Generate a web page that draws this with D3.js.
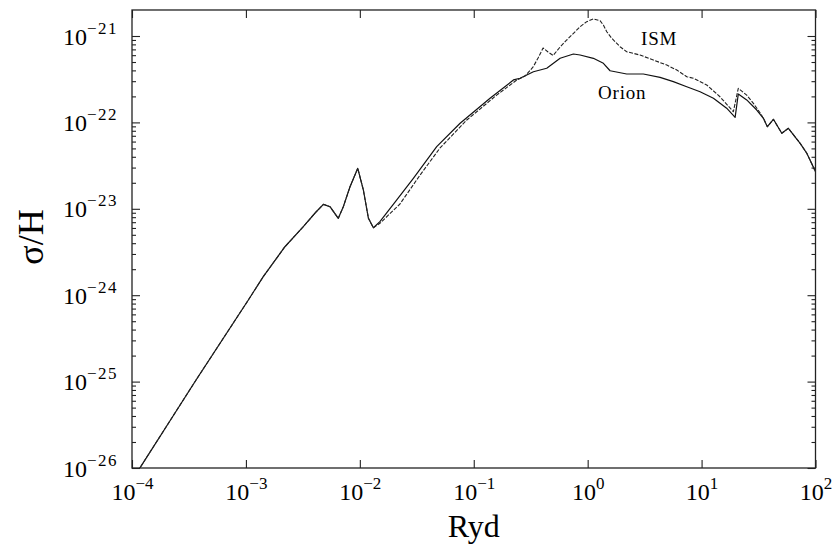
<!DOCTYPE html>
<html>
<head>
<meta charset="utf-8">
<script src="https://cdn.jsdelivr.net/npm/d3@7"></script>
<style>
  html, body { margin: 0; padding: 0; background: #fff; }
  svg { display: block; }
  text { font-family: "Liberation Serif", "Times New Roman", Times, serif; fill: #000; }
</style>
</head>
<body>
<svg id="chart" width="833" height="546"></svg>
<script>
// ---- data ----
const xTicks = [1e-4, 1e-3, 1e-2, 1e-1, 1e0, 1e1, 1e2];
const xTickExponents = ["−4", "−3", "−2", "−1", "0", "1", "2"];
const yTicks = [1e-26, 1e-25, 1e-24, 1e-23, 1e-22, 1e-21];
const yTickExponents = ["−26", "−25", "−24", "−23", "−22", "−21"];

// shared low-energy part (both grain mixes coincide)
const sharedRyd = [1.0e-4, 3.65e-4, 1.05e-3, 1.42e-3, 2.20e-3, 3.19e-3, 4.12e-3, 4.79e-3, 5.47e-3, 6.47e-3, 7.16e-3, 8.20e-3, 9.59e-3, 1.074e-2, 1.19e-2, 1.315e-2];
const sharedSigma = [7.2e-27, 1.045e-25, 8.8e-25, 1.64e-24, 3.64e-24, 6.21e-24, 9.18e-24, 1.127e-23, 1.057e-23, 7.76e-24, 1.057e-23, 1.80e-23, 2.94e-23, 1.65e-23, 7.76e-24, 6.04e-24];

// Orion grains (solid)
const orionRyd = [1.50e-2, 2.11e-2, 2.95e-2, 4.73e-2, 7.59e-2, 0.139, 0.223, 0.255, 0.334, 0.437, 0.573, 0.750, 0.858, 1.122, 1.374, 1.573, 2.20, 3.08, 4.32, 5.65, 7.41, 9.70, 12.7, 16.6, 19.7, 21.0, 24.9, 30.5, 34.9, 37.8, 42.7, 50.6, 57.8, 73.3, 83.9, 100];
const orionSigma = [7.10e-24, 1.265e-23, 2.25e-23, 5.24e-23, 9.77e-23, 1.90e-22, 3.10e-22, 3.24e-22, 3.86e-22, 4.23e-22, 5.52e-22, 6.19e-22, 6.03e-22, 5.52e-22, 4.83e-22, 3.96e-22, 3.63e-22, 3.63e-22, 3.32e-22, 2.96e-22, 2.59e-22, 2.26e-22, 1.90e-22, 1.46e-22, 1.145e-22, 2.13e-22, 1.82e-22, 1.39e-22, 1.115e-22, 8.91e-23, 1.086e-22, 7.48e-23, 8.55e-23, 5.73e-23, 4.39e-23, 2.69e-23];

// ISM grains (dashed)
const ismRyd = [1.50e-2, 2.25e-2, 3.38e-2, 5.06e-2, 8.69e-2, 0.159, 0.239, 0.282, 0.332, 0.367, 0.406, 0.449, 0.497, 0.573, 0.655, 0.858, 0.982, 1.122, 1.284, 1.374, 1.471, 1.628, 1.924, 2.20, 2.88, 3.77, 4.95, 6.06, 7.41, 8.47, 11.1, 14.5, 19.0, 21.0, 24.9, 28.5, 32.7, 34.9, 37.8, 42.7, 50.6, 57.8, 73.3, 83.9, 100];
const ismSigma = [6.79e-24, 1.137e-23, 2.46e-23, 5.06e-23, 1.066e-22, 2.07e-22, 3.10e-22, 3.44e-22, 4.38e-22, 5.56e-22, 7.26e-22, 6.53e-22, 5.95e-22, 7.46e-22, 8.99e-22, 1.28e-21, 1.466e-21, 1.574e-21, 1.503e-21, 1.34e-21, 1.12e-21, 9.40e-22, 7.52e-22, 6.58e-22, 6.02e-22, 5.27e-22, 4.61e-22, 4.04e-22, 3.38e-22, 3.24e-22, 2.71e-22, 1.98e-22, 1.33e-22, 2.48e-22, 2.07e-22, 1.66e-22, 1.285e-22, 1.115e-22, 8.91e-23, 1.086e-22, 7.48e-23, 8.55e-23, 5.73e-23, 4.39e-23, 2.69e-23];

const seriesLabels = ["ISM", "Orion"];
const xLabel = "Ryd";
const yLabel = "σ/H";

// ---- layout ----
const svg = d3.select("#chart");
const W = 833, H = 546;
svg.append("rect").attr("width", W).attr("height", H).attr("fill", "#fff");

const leftX = 132, rightX = 815.5, bottomY = 468, y21 = 36;
const decY = (bottomY - y21) / 5;
const x = d3.scaleLog().domain([1e-4, 1e2]).range([leftX, rightX]);
const y = d3.scaleLog().domain([1e-26, 2e-21]).range([bottomY, y21 - decY * Math.log10(2)]);
const topY = y.range()[1];

const zip = (a, b) => a.map((v, i) => [v, b[i]]);
const shared = zip(sharedRyd, sharedSigma);
const orion = shared.concat(zip(orionRyd, orionSigma));
const ism = shared.concat(zip(ismRyd, ismSigma));

svg.append("clipPath").attr("id", "clip")
  .append("rect").attr("x", leftX).attr("y", topY).attr("width", rightX - leftX).attr("height", bottomY - topY);

const line = d3.line().x(d => x(d[0])).y(d => y(d[1]));

const g = svg.append("g").attr("clip-path", "url(#clip)");
g.append("path").datum(orion).attr("d", line)
  .attr("fill", "none").attr("stroke", "#111").attr("stroke-width", 1.2).attr("stroke-linejoin", "round");
g.append("path").datum(ism).attr("d", line)
  .attr("fill", "none").attr("stroke", "#222").attr("stroke-width", 1.1).attr("stroke-linejoin", "round")
  .attr("stroke-dasharray", "4,1.5");

// ---- axes ----
const minorY = [];
for (let e = -26; e < -21; e++) for (let m = 2; m <= 9; m++) minorY.push(m * Math.pow(10, e));

function styleAxis(sel) {
  sel.select(".domain").remove();
  sel.selectAll(".tick line").attr("stroke", "#222").attr("stroke-width", 1.1);
}

const axB = svg.append("g").attr("transform", `translate(0,${bottomY})`)
  .call(d3.axisBottom(x).tickValues(xTicks).tickSize(-8).tickFormat(() => ""));
styleAxis(axB);
const axT = svg.append("g").attr("transform", `translate(0,${topY})`)
  .call(d3.axisTop(x).tickValues(xTicks).tickSize(-8).tickFormat(() => ""));
styleAxis(axT);
const axL = svg.append("g").attr("transform", `translate(${leftX},0)`)
  .call(d3.axisLeft(y).tickValues(yTicks).tickSize(-8).tickFormat(() => ""));
styleAxis(axL);
const axLm = svg.append("g").attr("transform", `translate(${leftX},0)`)
  .call(d3.axisLeft(y).tickValues(minorY).tickSize(-4).tickFormat(() => ""));
styleAxis(axLm);
const axR = svg.append("g").attr("transform", `translate(${rightX},0)`)
  .call(d3.axisRight(y).tickValues(yTicks).tickSize(-8).tickFormat(() => ""));
styleAxis(axR);
const axRm = svg.append("g").attr("transform", `translate(${rightX},0)`)
  .call(d3.axisRight(y).tickValues(minorY).tickSize(-4).tickFormat(() => ""));
styleAxis(axRm);

// frame
svg.append("rect").attr("x", leftX).attr("y", topY).attr("width", rightX - leftX).attr("height", bottomY - topY)
  .attr("fill", "none").attr("stroke", "#222").attr("stroke-width", 1.3);

// tick labels with superscripts
axB.selectAll(".tick text").each(function(d, i) {
  const t = d3.select(this).text(null)
    .attr("y", 32).attr("dy", null).attr("font-size", 24).attr("text-anchor", "middle")
    .attr("fill", "#000");
  t.append("tspan").text("10");
  t.append("tspan").attr("dy", -11).attr("font-size", 17).text(xTickExponents[i]);
});
axL.selectAll(".tick text").each(function(d, i) {
  const t = d3.select(this).text(null)
    .attr("x", -14).attr("dy", 8).attr("font-size", 24).attr("text-anchor", "end")
    .attr("fill", "#000");
  t.append("tspan").text("10");
  t.append("tspan").attr("dy", -11).attr("font-size", 17).attr("letter-spacing", 1.5).text(yTickExponents[i]);
});

// axis titles
svg.append("text").attr("x", (leftX + rightX) / 2).attr("y", 537).attr("text-anchor", "middle")
  .attr("font-size", 32).text(xLabel);
svg.append("text").attr("transform", `translate(43,${(topY + bottomY) / 2 - 2}) rotate(-90)`)
  .attr("text-anchor", "middle").attr("font-size", 36).text(yLabel);

// curve labels
svg.append("text").attr("x", 641).attr("y", 45).attr("font-size", 19).attr("letter-spacing", 0.8).text(seriesLabels[0]);
svg.append("text").attr("x", 598).attr("y", 99).attr("font-size", 19).attr("letter-spacing", 0.8).text(seriesLabels[1]);
</script>
</body>
</html>
